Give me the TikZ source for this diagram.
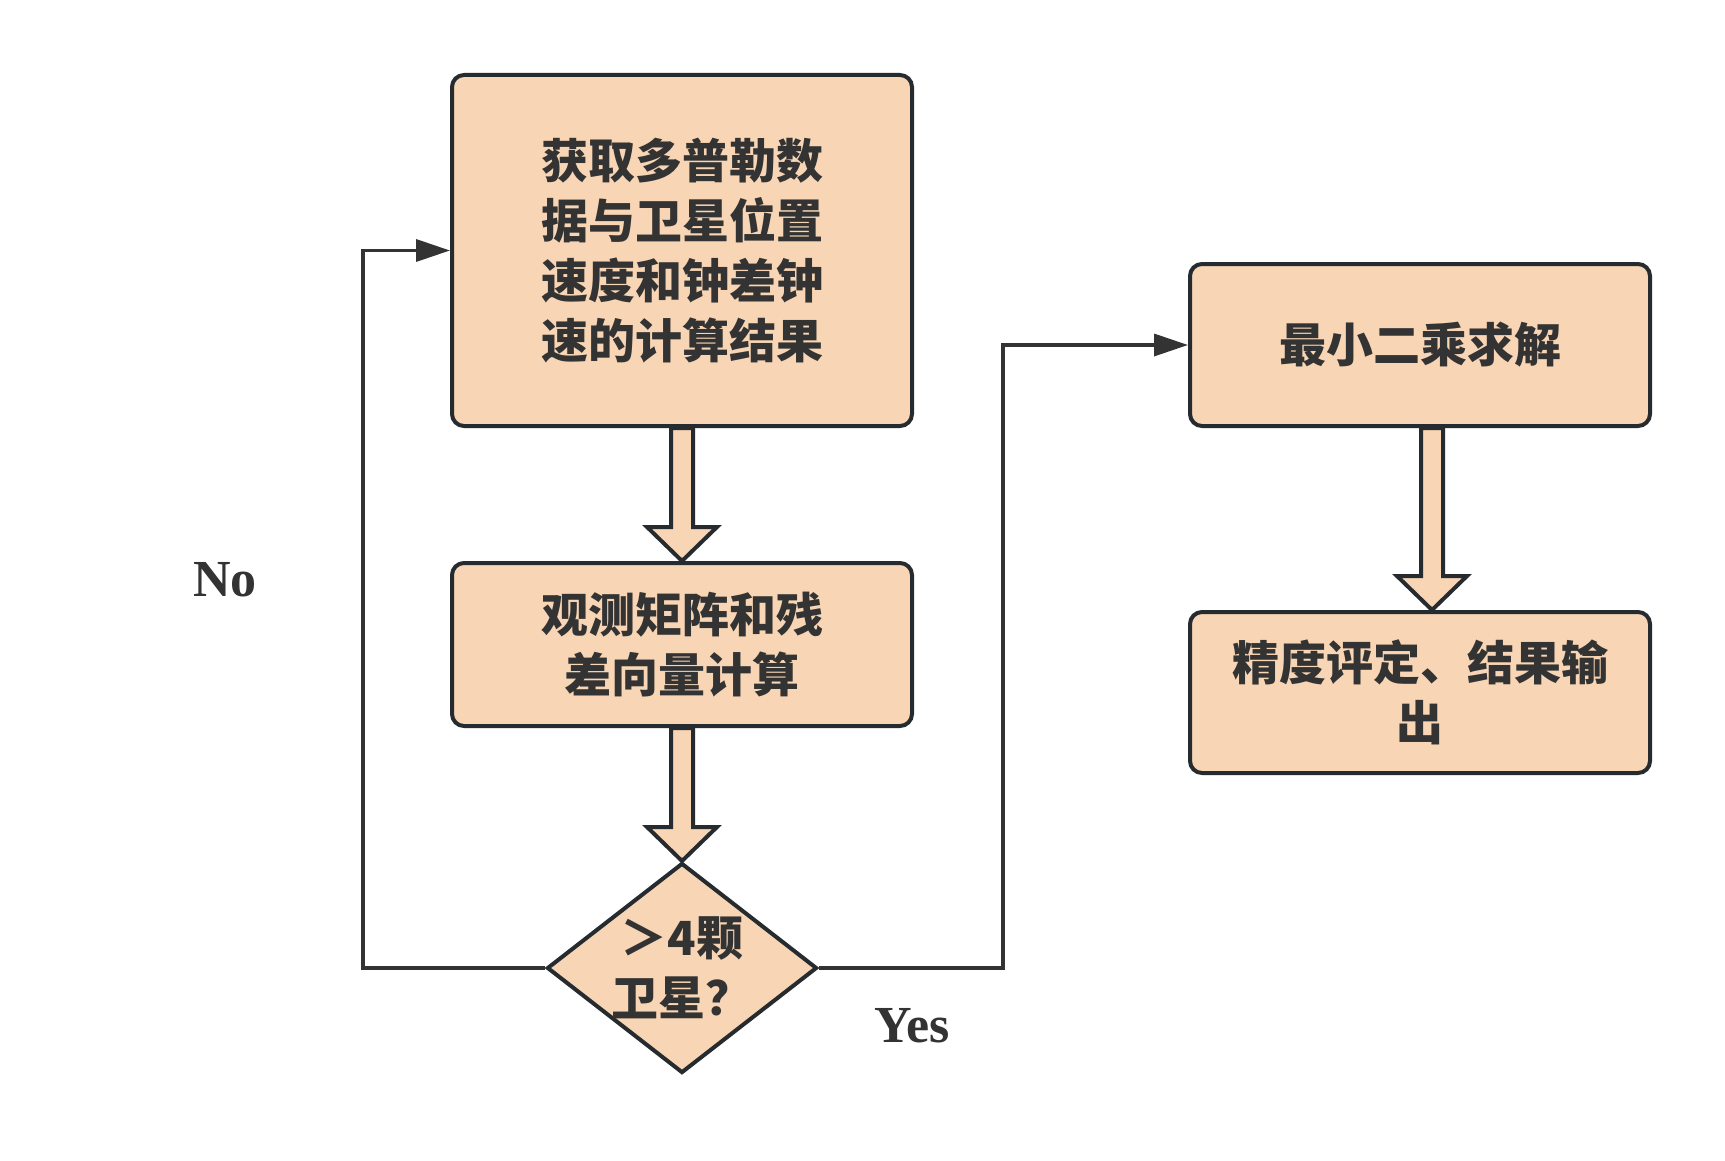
\documentclass[tikz,border=0pt]{standalone}
\usepackage{fontspec}
\setmainfont{Liberation Serif}
\newfontfamily\cjk{Noto Sans CJK SC}
\usetikzlibrary{arrows.meta,shapes.geometric,calc}
\definecolor{peach}{HTML}{F8D5B4}
\definecolor{edgec}{HTML}{262B30}
\definecolor{ink}{HTML}{333333}
\newcommand\blk[3]{%
  \draw[barrow] ($(#1.south)+(#3-11,0)$) -- ($(#2.north)+(#3-11,-34)$) -- ($(#2.north)+(#3-35,-34)$)
    -- ($(#2.north)+(#3,0)$) -- ($(#2.north)+(#3+35,-34)$) -- ($(#2.north)+(#3+11,-34)$)
    -- ($(#1.south)+(#3+11,0)$) -- cycle;}
\begin{document}
\begin{tikzpicture}[x=0.5pt,y=-0.5pt,
  box/.style={draw=edgec, line width=2pt, fill=peach, rounded corners=6pt, inner sep=0pt,
    align=center, minimum width=230pt, text=ink,
    font=\cjk\bfseries\fontsize{23.5}{30}\selectfont},
  dia/.style={draw=edgec, line width=2pt, fill=peach, diamond, inner sep=0pt,
    minimum width=135pt, minimum height=105pt},
  barrow/.style={draw=edgec, line width=2pt, fill=peach, line join=miter},
  conn/.style={draw=ink, line width=1.75pt, -{Triangle[length=17pt,width=11pt]}},
  lbl/.style={text=ink, font=\bfseries\fontsize{26}{30}\selectfont}]
\useasboundingbox (0,0) rectangle (1725,1161);
\node[box, minimum height=175.5pt] (b1) at (682,250.5) {获取多普勒数\\据与卫星位置\\速度和钟差钟\\速的计算结果};
\node[box, minimum height=81.5pt] (b2) at (682,644.5) {观测矩阵和残\\差向量计算};
\node[dia] (d) at (682,968) {};
\node[text=ink, align=center, font=\cjk\bfseries\fontsize{23.5}{30}\selectfont] (dt) at (682,968) {＞4颗\\卫星？};
\node[box, minimum height=81pt] (b3) at (1420,345) {最小二乘求解};
\node[box, minimum height=80.5pt] (b4) at (1420,692.5) {精度评定、结果输\\出};
\blk{b1}{b2}{0}
\blk{b2}{d}{0}
\blk{b3}{b4}{12}
\coordinate (nl) at (363,0);
\coordinate (yl) at (1003,0);
\draw[conn] (d.west) -- (d.west -| nl) |- (b1.west);
\draw[conn] (d.east) -- (d.east -| yl) |- (b3.west);
\node[lbl] (no) at (225,580) {No};
\node[lbl] (yes) at (912,1026) {Yes};
\end{tikzpicture}
\end{document}
